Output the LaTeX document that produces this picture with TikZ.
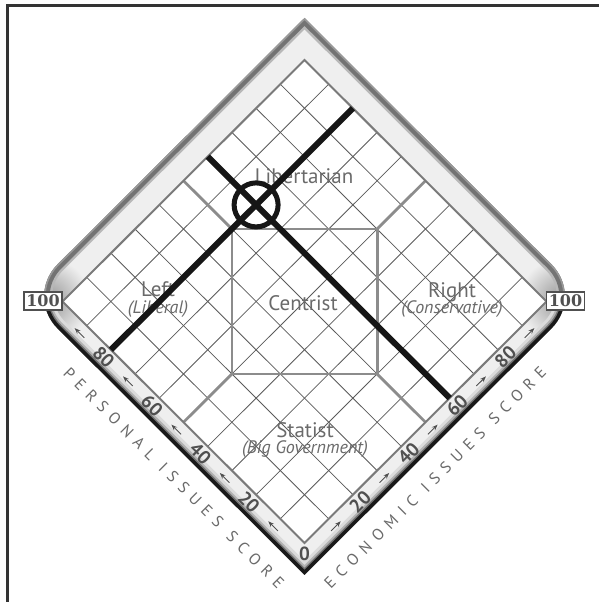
\documentclass[tikz,border=0pt]{standalone}
\usepackage{fontspec}
\setmainfont{PT Sans}
\newfontfamily\boxfont{DejaVu Serif}
\newfontfamily\trackfont{PT Sans}[LetterSpace=43]
\usetikzlibrary{arrows.meta}
\definecolor{framegray}{HTML}{333333}
\definecolor{gridgray}{HTML}{5A5A5A}
\definecolor{regiongray}{HTML}{8C8C8C}
\definecolor{bordergray}{HTML}{7A7A7A}
\definecolor{labelgray}{HTML}{6A6A6A}
\definecolor{numgray}{HTML}{505050}
\definecolor{bezelfill}{HTML}{EFEFEF}
\definecolor{inkblack}{HTML}{161616}
\tikzset{
  framestyle/.style={draw=framegray, line width=3pt},
  gridline/.style={draw=gridgray, line width=0.8pt},
  regionline/.style={draw=regiongray, line width=2.8pt},
  gridborder/.style={draw=bordergray, line width=2pt, line join=miter},
  answerline/.style={draw=inkblack, line width=6pt},
  regionlabel/.style={text=labelgray, font=\fontsize{21}{24}\selectfont, anchor=base, inner sep=0pt},
  sublabel/.style={text=labelgray, font=\fontsize{18}{21}\selectfont\itshape, anchor=base, inner sep=0pt},
  scorenum/.style={text=numgray, font=\fontsize{19}{20}\selectfont\bfseries, inner sep=0pt},
  scorearrow/.style={-{Stealth[length=6pt,width=4.5pt]}, line width=0.9pt, draw=numgray},
  axistitle/.style={text=labelgray, font=\trackfont\fontsize{16}{18}\selectfont, inner sep=0pt},
  boxlabel/.style={draw=numgray, line width=1.4pt, fill=white, minimum width=38pt, minimum height=18pt, inner sep=0pt, text=numgray, font=\boxfont\bfseries\fontsize{16}{17}\selectfont}
}
\newcommand{\wgap}{\hspace{12pt}}
\def\bezelpath{(165,157.2) [rounded corners=45pt] -- (25.5,296.4) -- (165,435.6) [sharp corners] -- (304.5,574.9) -- (444,435.6) [rounded corners=45pt] -- (583.5,296.4) -- (444,157.2) [sharp corners] -- (304.5,18) -- cycle}
\begin{document}
\begin{tikzpicture}[x=1pt,y=-1pt]
\useasboundingbox (0,0) rectangle (599,602);
\fill[white] (0,0) rectangle (599,602);
% frame
\draw[framestyle] (7.5,602) -- (7.5,5.7) -- (599,5.7);
% bezel
\fill[bezelfill] \bezelpath;
\begin{scope}
  \clip \bezelpath;
  \shade[inner color=black!42, outer color=bezelfill] (48,300) circle (42);
  \shade[inner color=black!42, outer color=bezelfill] (561,300) circle (42);
  \begin{scope}
    \clip (0,0) rectangle (599,298);
    \draw[line width=16pt, draw=black!28] \bezelpath;
    \draw[line width=11pt, draw=black!55] \bezelpath;
    \draw[line width=3pt, draw=black!40] \bezelpath;
  \end{scope}
  \begin{scope}
    \clip (0,298) rectangle (599,602);
    \draw[line width=20pt, draw=black!14] \bezelpath;
    \draw[line width=14pt, draw=black!30] \bezelpath;
    \draw[line width=10pt, draw=black!55] \bezelpath;
    \draw[line width=7pt, draw=black!90] \bezelpath;
  \end{scope}
\end{scope}
% grid in diamond coordinates (economic, personal)
\begin{scope}[shift={(304.5,543)}, x={(242pt,241.5pt)}, y={(-242pt,241.5pt)}]
  \fill[white] (0,0) -- (1,0) -- (1,1) -- (0,1) -- cycle;
  \foreach \i in {1,...,9} {
    \draw[gridline] (\i/10,0) -- (\i/10,1);
    \draw[gridline] (0,\i/10) -- (1,\i/10);
  }
  \draw[regionline] (0.5,0.8) -- (0.8,0.5) -- (0.5,0.2) -- (0.2,0.5) -- cycle;
  \draw[regionline] (0.5,0.8) -- (0.5,1);
  \draw[regionline] (0.8,0.5) -- (1,0.5);
  \draw[regionline] (0.5,0.2) -- (0.5,0);
  \draw[regionline] (0.2,0.5) -- (0,0.5);
  \draw[gridborder] (0,0) -- (1,0) -- (1,1) -- (0,1) -- cycle;
  % score labels
  \node[scorenum] (zero) at (-0.022,-0.022) {0};
  \foreach \v/\s in {20/0.2,40/0.4,60/0.6,80/0.8} {
    \node[scorenum, rotate=-45] (pers\v) at (-0.03,\s) {\v};
    \node[scorenum, rotate=45] (econ\v) at (\s,-0.03) {\v};
  }
  \foreach \s in {0.1,0.3,0.5,0.7,0.9} {
    \draw[scorearrow] (-0.03,\s-0.02) -- (-0.03,\s+0.02);
    \draw[scorearrow] (\s-0.02,-0.03) -- (\s+0.02,-0.03);
  }
  \node[axistitle, rotate=-45] (ptitle) at (-0.135,0.405) {PERSONAL\wgap ISSUES\wgap SCORE};
  \node[axistitle, rotate=45] (etitle) at (0.405,-0.135) {ECONOMIC\wgap ISSUES\wgap SCORE};
  % answer lines
  \coordinate (lineA1) at (0,0.8);
  \coordinate (lineA2) at (1,0.8);
  \coordinate (lineB1) at (0.6,0);
  \coordinate (lineB2) at (0.6,1);
  \coordinate (hit) at (0.6,0.8);
\end{scope}
% region labels
\node[regionlabel] (lib) at (304,183) {Libertarian};
\node[regionlabel] (cen) at (303,310) {Centrist};
\node[regionlabel] (left) at (158,296.5) {Left};
\node[sublabel] (liberal) at (158,313) {(Liberal)};
\node[regionlabel] (right) at (452,297) {Right};
\node[sublabel] (cons) at (452,313) {(Conservative)};
\node[regionlabel] (stat) at (305,437) {Statist};
\node[sublabel] (biggov) at (305,453) {(Big Government)};
% answer lines on top
\draw[answerline] (lineA1) -- (lineA2);
\draw[answerline] (lineB1) -- (lineB2);
\draw[answerline, line width=5pt] (hit) circle (22);
% 100 boxes
\node[boxlabel] (hundredL) at (43,301) {100};
\node[boxlabel] (hundredR) at (565.5,301) {100};
\end{tikzpicture}
\end{document}
